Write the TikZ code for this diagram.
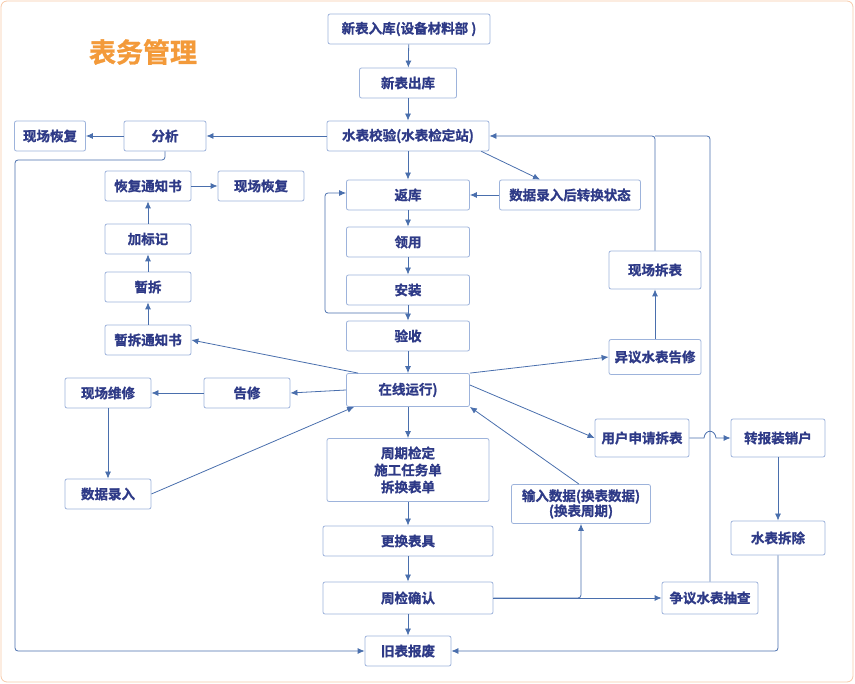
\documentclass[tikz,border=0pt]{standalone}
\usepackage{fontspec}
\setmainfont{Noto Sans CJK SC}
\newfontfamily\cjkbold{Noto Sans CJK SC Bold}[FakeBold=1.2]
\usetikzlibrary{arrows.meta}
\definecolor{boxline}{HTML}{9DB3DB}
\definecolor{boxtext}{HTML}{2E3A87}
\definecolor{conn}{HTML}{4A6FAD}
\definecolor{titleor}{HTML}{F39A3A}
\definecolor{frameor}{HTML}{F7C9A8}
\tikzset{
  box/.style={draw=boxline, thick, rounded corners=2pt, fill=white, text=boxtext,
    font=\cjkbold\fontsize{13.5}{17}\selectfont, align=center, inner sep=2pt,
    minimum height=30pt},
  flow/.style={conn, thick, -{Latex[length=7pt,width=6pt]}},
  line/.style={conn, thick}
}
\begin{document}
\begin{tikzpicture}[x=1pt,y=-1pt]
	\useasboundingbox (0,0) rectangle (855,684);
	\draw [frameor, rounded corners=6pt, thick] (1,1) rectangle (853,682);
	\node [text=titleor, font=\cjkbold\fontsize{27}{30}\selectfont] (title) at (143,52) {表务管理};
	% main column
	\node [box, minimum width=162pt] (xbrk) at (409,29) {新表入库(设备材料部 )};
	\node [box, minimum width=97pt] (xbck) at (408,83) {新表出库};
	\node [box, minimum width=162pt] (jiaoyan) at (408,136) {水表校验(水表检定站)};
	\node [box, minimum width=123pt] (fanku) at (408,195) {返库};
	\node [box, minimum width=123pt] (lingyong) at (408,242) {领用};
	\node [box, minimum width=123pt] (anzhuang) at (408,290) {安装};
	\node [box, minimum width=123pt] (yanshou) at (408,336) {验收};
	\node [box, minimum width=123pt, minimum height=33pt] (zaixian) at (408,390) {在线运行)};
	\node [box, minimum width=162pt, minimum height=63pt] (zhouqi) at (408,470) {周期检定\\施工任务单\\拆换表单};
	\node [box, minimum width=170pt] (genghuan) at (408,541) {更换表具};
	\node [box, minimum width=170pt, minimum height=32pt] (zjqr) at (408,598) {周检确认};
	\node [box, minimum width=86pt] (jiubiao) at (408,651) {旧表报废};
	% left side
	\node [box, minimum width=141pt] (sjzh) at (570,195) {数据录入后转换状态};
	\node [box, minimum width=82pt] (fenxi) at (165,136) {分析};
	\node [box, minimum width=71pt] (xchf) at (50,136) {现场恢复};
	\node [box, minimum width=86pt] (hftz) at (148,186) {恢复通知书};
	\node [box, minimum width=86pt] (xchf2) at (261,186) {现场恢复};
	\node [box, minimum width=86pt] (biaoji) at (148,239) {加标记};
	\node [box, minimum width=86pt] (zanchai) at (148,287) {暂拆};
	\node [box, minimum width=86pt] (zctz) at (148,340) {暂拆通知书};
	\node [box, minimum width=86pt] (weixiu) at (108,393) {现场维修};
	\node [box, minimum width=86pt] (gaoxiu) at (247,393) {告修};
	\node [box, minimum width=86pt] (sjlr) at (108,494) {数据录入};
	% right side
	\node [box, minimum width=92pt, minimum height=38pt] (chaibiao) at (655,270) {现场拆表};
	\node [box, minimum width=92pt, minimum height=35pt] (yiyi) at (655,357) {异议水表告修};
	\node [box, minimum width=94pt, minimum height=38pt] (shenqing) at (642,438) {用户申请拆表};
	\node [box, minimum width=94pt, minimum height=38pt] (xiaohu) at (778,438) {转报装销户};
	\node [box, minimum width=94pt, minimum height=34pt] (chaichu) at (778,538) {水表拆除};
	\node [box, minimum width=139pt, minimum height=39pt, inner sep=1pt] (shuru) at (581,504) {输入数据(换表数据)\\[-2pt](换表周期)};
	\node [box, minimum width=96pt, minimum height=32pt] (zhengyi) at (710,598) {争议水表抽查};
	\coordinate (loop) at (408,313);
	% main flow
	\draw [flow] (xbrk) -- (xbck);
	\draw [flow] (xbck) -- (jiaoyan);
	\draw [flow] (jiaoyan) -- (fanku);
	\draw [flow] (fanku) -- (lingyong);
	\draw [flow] (lingyong) -- (anzhuang);
	\draw [flow] (anzhuang) -- (yanshou);
	\draw [flow] (yanshou) -- (zaixian);
	\draw [flow] (zaixian) -- (zhouqi);
	\draw [flow] (zhouqi) -- (genghuan);
	\draw [flow] (genghuan) -- (zjqr);
	\draw [flow] (zjqr) -- (jiubiao);
	\draw [flow, rounded corners=3pt] (loop) -- (325,313) -- (325,193) -- (fanku.west |- 0,193);
	\draw [flow] ([xshift=-8pt]jiaoyan.south east) -- ([xshift=-30pt]sjzh.north);
	\draw [flow] (sjzh.west) -- (fanku.east);
	\draw [flow] (jiaoyan) -- (fenxi);
	\draw [flow] (fenxi) -- (xchf);
	\draw [flow, rounded corners=3pt] (fenxi.south) -- (165,160) -- (15,160) -- (15,651) -- (jiubiao.west);
	% left branch
	\draw [flow] ([xshift=12pt]zaixian.north west) -- (zctz.east);
	\draw [flow] (zctz) -- (zanchai);
	\draw [flow] (zanchai) -- (biaoji);
	\draw [flow] (biaoji) -- (hftz);
	\draw [flow] (hftz) -- (xchf2);
	\draw [flow] (zaixian.west) -- (gaoxiu.east);
	\draw [flow] (gaoxiu) -- (weixiu);
	\draw [flow] (weixiu) -- (sjlr);
	\draw [flow] (sjlr.east) -- ([xshift=8pt]zaixian.south west);
	% right branch
	\draw [flow] (zaixian.north east) -- (yiyi.west);
	\draw [flow] (yiyi) -- (chaibiao);
	\draw [flow, rounded corners=3pt] (chaibiao.north) -- (655,136) -- (jiaoyan.east);
	\draw [line, rounded corners=3pt] (zhengyi.north) -- (710,136) -- (655,136);
	\draw [flow] ([yshift=5pt]zaixian.east) -- (shenqing.west);
	\draw [flow] (shenqing.east) -- (704,438) .. controls (705,429) and (715,429) .. (716,438) -- (xiaohu.west);
	\draw [flow] (xiaohu) -- (chaichu);
	\draw [flow, rounded corners=3pt] (chaichu.south) -- (778,651) -- (jiubiao.east);
	\draw [flow, rounded corners=3pt] (zjqr.east) -- (581,598) -- (shuru.south);
	\draw [flow] (zjqr.east) -- (zhengyi.west);
	\draw [flow] ([xshift=-2pt]shuru.north) -- (zaixian.south east);
\end{tikzpicture}
\end{document}
